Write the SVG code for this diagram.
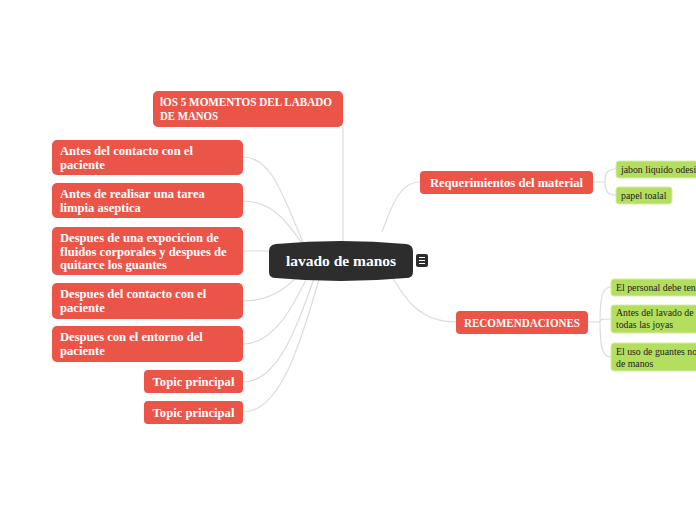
<svg xmlns="http://www.w3.org/2000/svg" width="696" height="520" viewBox="0 0 696 520">
<style>
.red{fill:#ea5548;}
.green{fill:#b4de5e;stroke:#d6ecaa;stroke-width:1;}
.rt{font-family:"Liberation Serif","DejaVu Serif",serif;font-weight:bold;font-size:12.6px;fill:#ffffff;}
.up{font-size:12px;}
.gt{font-family:"Liberation Serif","DejaVu Serif",serif;font-size:9.8px;fill:#222222;}
.ct{font-family:"Liberation Serif","DejaVu Serif",serif;font-weight:bold;font-size:15.5px;fill:#ffffff;}
.ln{fill:none;stroke:#dcdcdc;stroke-width:1.2;}
</style>
<rect width="696" height="520" fill="#ffffff"/>
<g id="connectors">
<path class="ln" d="M343 127 L343 250"/>
<path class="ln" d="M243 157 C275 157 285 205 312 262"/>
<path class="ln" d="M243 201 C275 201 290 225 315 262"/>
<path class="ln" d="M243 251 L300 251"/>
<path class="ln" d="M243 301 C275 301 290 285 312 262"/>
<path class="ln" d="M243 344 C280 344 300 290 315 262"/>
<path class="ln" d="M243 382 C285 382 305 300 320 262"/>
<path class="ln" d="M243 412 C290 412 310 300 325 262"/>
<path class="ln" d="M382 232 C392 205 400 182 420 182"/>
<path class="ln" d="M388 270 C405 300 420 322 456 322"/>
<path class="ln" d="M593 182 L605 182 M605 182 C605 172 608 169 616 169 M605 182 C605 192 608 195 616 195"/>
<path class="ln" d="M588 322 L600 322 M600 322 C600 295 603 287 611 287 M600 322 C600 319 603 319 611 319 M600 322 C600 350 603 357 611 357"/>
</g>
<g id="n-top">
<rect class="red" x="153" y="91" width="190" height="36" rx="5"/>
<text class="rt up" x="160" y="106" textLength="172" lengthAdjust="spacingAndGlyphs">lOS 5 MOMENTOS DEL LABADO</text>
<text class="rt up" x="160" y="120" textLength="58" lengthAdjust="spacingAndGlyphs">DE MANOS</text>
</g>
<g id="n-left1">
<rect class="red" x="52" y="140" width="191" height="35" rx="5"/>
<text class="rt" x="60" y="155">Antes del contacto con el</text>
<text class="rt" x="60" y="169">paciente</text>
</g>
<g id="n-left2">
<rect class="red" x="52" y="183" width="191" height="35" rx="5"/>
<text class="rt" x="60" y="198">Antes de realisar una tarea</text>
<text class="rt" x="60" y="212">limpia aseptica</text>
</g>
<g id="n-left3">
<rect class="red" x="52" y="227" width="191" height="48" rx="5"/>
<text class="rt" x="60" y="242">Despues de una expocicion de</text>
<text class="rt" x="60" y="256">fluidos corporales y despues de</text>
<text class="rt" x="60" y="269">quitarce los guantes</text>
</g>
<g id="n-left4">
<rect class="red" x="52" y="283" width="191" height="36" rx="5"/>
<text class="rt" x="60" y="298">Despues del contacto con el</text>
<text class="rt" x="60" y="312">paciente</text>
</g>
<g id="n-left5">
<rect class="red" x="52" y="326" width="191" height="36" rx="5"/>
<text class="rt" x="60" y="341">Despues con el entorno del</text>
<text class="rt" x="60" y="355">paciente</text>
</g>
<g id="n-topic1">
<rect class="red" x="144" y="370" width="99" height="23" rx="4"/>
<text class="rt" x="193.5" y="386" text-anchor="middle">Topic principal</text>
</g>
<g id="n-topic2">
<rect class="red" x="144" y="401" width="99" height="23" rx="4"/>
<text class="rt" x="193.5" y="417" text-anchor="middle">Topic principal</text>
</g>
<g id="n-center">
<path d="M276 244 Q341 238 406 244 Q413 245 413 251 L413 272 Q413 278 406 278 Q341 284 276 278 Q269 278 269 272 L269 251 Q269 245 276 244 Z" fill="#2d2d2d"/>
<text class="ct" x="341" y="266" text-anchor="middle">lavado de manos</text>
<rect x="416" y="254" width="12" height="13" rx="2" fill="#2d2d2d"/>
<path d="M419 257.5 H425 M419 260.5 H425 M419 263.5 H425" stroke="#ffffff" stroke-width="1.2"/>
</g>
<g id="n-req">
<rect class="red" x="420" y="171" width="173" height="23" rx="4"/>
<text class="rt" x="506.5" y="187" text-anchor="middle">Requerimientos del material</text>
</g>
<g id="n-rec">
<rect class="red" x="456" y="311" width="132" height="23" rx="4"/>
<text class="rt up" x="522" y="327" text-anchor="middle" textLength="116" lengthAdjust="spacingAndGlyphs">RECOMENDACIONES</text>
</g>
<g id="n-jabon">
<rect class="green" x="616" y="161" width="90" height="17" rx="3"/>
<text class="gt" x="621" y="173">jabon liquido odesi</text>
</g>
<g id="n-papel">
<rect class="green" x="616" y="187" width="56" height="17" rx="3"/>
<text class="gt" x="621" y="199">papel toalal</text>
</g>
<g id="n-personal">
<rect class="green" x="611" y="279" width="95" height="17" rx="3"/>
<text class="gt" x="616" y="291">El personal debe ten</text>
</g>
<g id="n-antes">
<rect class="green" x="611" y="305" width="95" height="28" rx="3"/>
<text class="gt" x="616" y="316">Antes del lavado de</text>
<text class="gt" x="616" y="328">todas las joyas</text>
</g>
<g id="n-uso">
<rect class="green" x="611" y="343" width="95" height="28" rx="3"/>
<text class="gt" x="616" y="355">El uso de guantes no</text>
<text class="gt" x="616" y="367">de manos</text>
</g>
</svg>
